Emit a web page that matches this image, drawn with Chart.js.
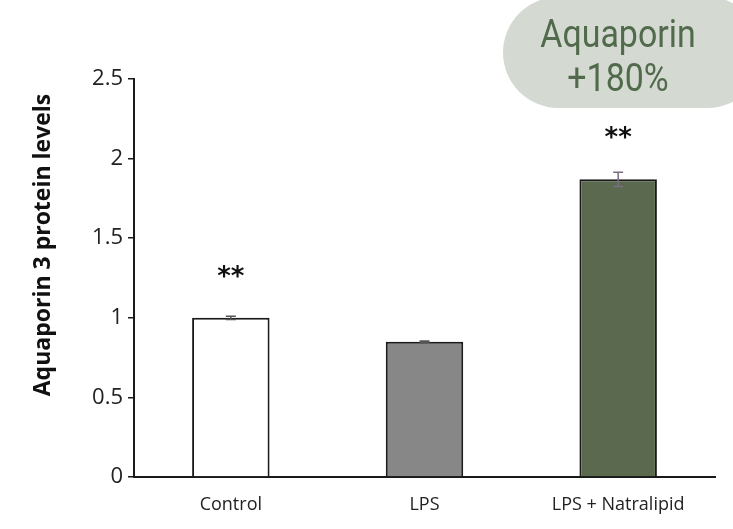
<!DOCTYPE html>
<html>
<head>
<meta charset="utf-8">
<script src="https://cdn.jsdelivr.net/npm/chart.js@4"></script>
<style>
  html, body { margin: 0; padding: 0; background: #fff; }
  #wrap { position: relative; width: 733px; height: 529px; overflow: hidden; }
  #pill {
    position: absolute; left: 503px; top: -3px; width: 260px; height: 111px;
    border-radius: 56px; background: #d4dad2;
  }
  .pillText {
    position: absolute; left: 0; width: 230px; text-align: center;
    font-family: Roboto, sans-serif; font-weight: 400; font-size: 39px;
    color: #526a4c; transform: scaleX(0.87); transform-origin: 115px 0;
    line-height: 1;
  }
</style>
</head>
<body>
<div id="wrap">
  <canvas id="chart" width="733" height="529"></canvas>
  <div id="pill">
    <div class="pillText" style="top:18px">Aquaporin</div>
    <div class="pillText" style="top:62px">+180%</div>
  </div>
</div>
<script>
'use strict';

let canvasElem = document.getElementById('chart');

let categories = ['Control', 'LPS', 'LPS + Natralipid'];
let proteinLevels = [1.0, 0.85, 1.87];
let errorValues = [0.01, 0.005, 0.045];
let significance = ['**', '', '**'];
let barColors = ['#ffffff', '#878787', '#5b6a4f'];
let yTicks = [0, 0.5, 1, 1.5, 2, 2.5];

// error bars + significance stars on top of each bar
let extrasPlugin = {
  id: 'extras',
  afterDatasetsDraw(chart) {
    let ctx = chart.ctx;
    let x = chart.scales.x;
    let y = chart.scales.y;
    ctx.save();
    for (let i = 0; i < proteinLevels.length; i++) {
      let cx = x.getPixelForValue(i);
      let top = y.getPixelForValue(proteinLevels[i] + errorValues[i]);
      let bottom = y.getPixelForValue(proteinLevels[i] - errorValues[i]);
      ctx.strokeStyle = i === 2 ? '#7a6e80' : '#555';
      ctx.lineWidth = 1.5;
      ctx.beginPath();
      ctx.moveTo(cx, top);
      ctx.lineTo(cx, bottom);
      ctx.moveTo(cx - 5, top);
      ctx.lineTo(cx + 5, top);
      ctx.moveTo(cx - 5, bottom);
      ctx.lineTo(cx + 5, bottom);
      ctx.stroke();

      if (significance[i]) {
        ctx.fillStyle = '#111';
        ctx.font = 'bold 26px "DejaVu Sans", sans-serif';
        ctx.textAlign = 'center';
        ctx.textBaseline = 'middle';
        ctx.fillText(significance[i], cx, y.getPixelForValue(proteinLevels[i]) - 40);
      }
    }
    ctx.restore();
  }
};

// y axis title, Excel style (centred a bit higher than the plot area)
let yTitlePlugin = {
  id: 'yTitle',
  afterDraw(chart) {
    let ctx = chart.ctx;
    ctx.save();
    ctx.translate(43, 245);
    ctx.rotate(-Math.PI / 2);
    ctx.fillStyle = '#111';
    ctx.font = 'bold 23px "Open Sans", sans-serif';
    ctx.textAlign = 'center';
    ctx.textBaseline = 'middle';
    ctx.fillText('Aquaporin 3 protein levels', 0, 0);
    ctx.restore();
  }
};

function renderChart() {
  let dataObject = {
    labels: categories,
    datasets: [
      {
        label: 'Aquaporin 3',
        data: proteinLevels,
        backgroundColor: barColors,
        borderColor: '#1a1a1a',
        borderWidth: 2,
        borderSkipped: 'bottom',
        barPercentage: 0.4,
        categoryPercentage: 1
      }
    ]
  };
  let config = {
    type: 'bar',
    data: dataObject,
    options: {
      responsive: false,
      animation: false,
      layout: {
        padding: { left: 0, top: 79, right: 18, bottom: 0 }
      },
      plugins: {
        legend: { display: false },
        tooltip: { enabled: false }
      },
      scales: {
        x: {
          grid: { display: false },
          border: { display: true, color: '#1a1a1a', width: 2 },
          ticks: {
            color: '#222',
            padding: 9,
            font: { family: '"Open Sans", sans-serif', size: 18 }
          },
          afterFit(scale) { scale.height = 52; }
        },
        y: {
          min: 0,
          max: 2.5,
          afterBuildTicks(scale) {
            scale.ticks = yTicks.map(v => ({ value: v }));
          },
          grid: {
            display: true,
            drawOnChartArea: false,
            drawTicks: true,
            tickLength: 6,
            color: '#1a1a1a',
            lineWidth: 1.5
          },
          border: { display: true, color: '#1a1a1a', width: 2 },
          ticks: {
            color: '#222',
            padding: 5,
            font: { family: '"Open Sans", sans-serif', size: 22 },
            callback: v => String(v)
          },
          afterFit(scale) { scale.width = 134; }
        }
      }
    },
    plugins: [extrasPlugin, yTitlePlugin]
  };
  new Chart(canvasElem, config);
}

renderChart();
</script>
</body>
</html>
